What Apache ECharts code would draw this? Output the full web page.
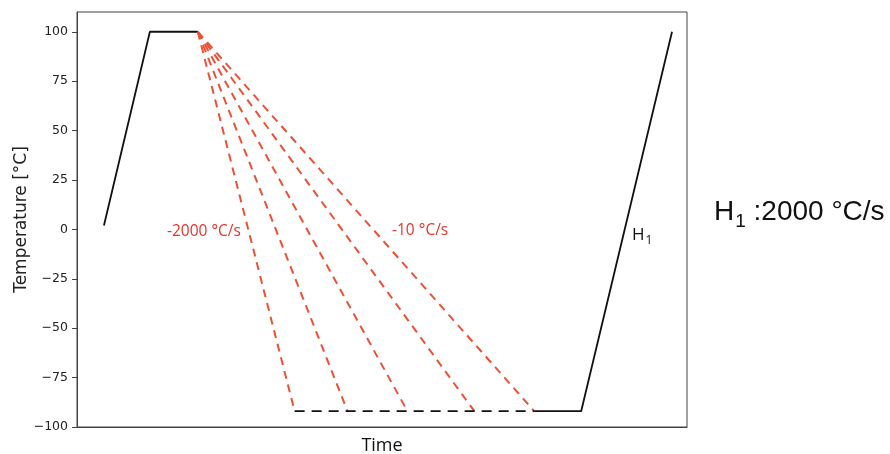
<!DOCTYPE html>
<html>
<head>
<meta charset="utf-8">
<script src="https://cdn.jsdelivr.net/npm/echarts@6/dist/echarts.min.js"></script>
<style>
html,body{margin:0;padding:0;background:#fff;}
#chart{width:890px;height:454px;}
</style>
</head>
<body>
<div id="chart"></div>
<script>
// ---- data (time in arbitrary units, temperature in °C) ----
var heatTime = [27, 73, 121];
var heatTemp = [2, 100, 100];
var quenchStartTime = 121;
var quenchStartTemp = 100;
var quenchEndTimes = [218, 271, 331, 398, 458];
var quenchEndTemp = -92;
var holdDashTime = [218, 458];
var holdDashTemp = [-92, -92];
var reheatTime = [458, 505, 596];
var reheatTemp = [-92, -92, 100];
var yTicks = [-100, -75, -50, -25, 0, 25, 50, 75, 100];
var xRange = [0, 611];
var yRange = [-100, 110];

function pairs(xs, ys) { return xs.map(function (x, i) { return [x, ys[i]]; }); }

var RED = '#ef5035';
var series = [];
series.push({
  type: 'line', data: pairs(heatTime, heatTemp), symbol: 'none',
  lineStyle: { color: '#111', width: 1.8 }, silent: true
});
quenchEndTimes.forEach(function (t) {
  series.push({
    type: 'line', data: [[quenchStartTime, quenchStartTemp], [t, quenchEndTemp]], symbol: 'none',
    lineStyle: { color: RED, width: 2, type: [8, 6] }, silent: true
  });
});
series.push({
  type: 'line', data: pairs(holdDashTime, holdDashTemp), symbol: 'none',
  lineStyle: { color: '#111', width: 1.8, type: [10, 7] }, silent: true
});
series.push({
  type: 'line', data: pairs(reheatTime, reheatTemp), symbol: 'none',
  lineStyle: { color: '#111', width: 1.8 }, silent: true
});

var chart = echarts.init(document.getElementById('chart'));
chart.setOption({
  animation: false,
  backgroundColor: '#fff',
  grid: { left: 77, right: 203, top: 12, bottom: 27, show: true, borderColor: '#444', borderWidth: 1,
          backgroundColor: 'transparent', outerBoundsMode: 'none', containLabel: false },
  xAxis: {
    type: 'value', min: xRange[0], max: xRange[1],
    axisLine: { show: true, onZero: false, lineStyle: { color: '#444' } },
    axisTick: { show: false }, axisLabel: { show: false }, splitLine: { show: false },
    name: 'Time', nameLocation: 'middle', nameGap: 10,
    nameTextStyle: { fontFamily: 'Open Sans', fontSize: 18, color: '#111' }
  },
  yAxis: {
    type: 'value', min: yRange[0], max: yRange[1],
    axisLine: { show: true, lineStyle: { color: '#444' } },
    axisTick: { show: true, length: 5, customValues: yTicks, lineStyle: { color: '#444' } },
    axisLabel: {
      customValues: yTicks, margin: 9, fontFamily: 'DejaVu Sans', fontSize: 12.5, color: '#222',
      formatter: function (v) { return String(v).replace('-', '\u2212'); }
    },
    splitLine: { show: false },
    name: 'Temperature [°C]', nameLocation: 'middle', nameGap: 47, nameMoveOverlap: false,
    nameTextStyle: { fontFamily: 'DejaVu Sans', fontSize: 17, color: '#222' }
  },
  series: series,
  graphic: [
    { type: 'text', left: 167, top: 224, style: { text: '-2000 °C/s', fill: '#e5352b', font: '15.5px "Open Sans"' } },
    { type: 'text', left: 392, top: 223, style: { text: '-10 °C/s', fill: '#e5352b', font: '15.5px "Open Sans"' } },
    { type: 'text', left: 632, top: 227, style: {
        text: '{h|H}{s|1}',
        rich: { h: { fontFamily: 'Open Sans', fontSize: 17, fill: '#111', verticalAlign: 'bottom' },
                s: { fontFamily: 'Open Sans', fontSize: 12, fill: '#111', verticalAlign: 'bottom', padding: [0,0,-3,1] } }
      } },
    { type: 'text', left: 714, top: 198, style: {
        text: '{h|H}{s|1}{c| :2000 °C/s}',
        rich: { h: { fontFamily: 'Liberation Sans', fontSize: 28, fill: '#111', verticalAlign: 'bottom' },
                s: { fontFamily: 'Liberation Sans', fontSize: 19, fill: '#111', verticalAlign: 'bottom', padding: [0,0,-5,1] },
                c: { fontFamily: 'Liberation Sans', fontSize: 28, fill: '#111', verticalAlign: 'bottom' } }
      } }
  ]
});
</script>
</body>
</html>
